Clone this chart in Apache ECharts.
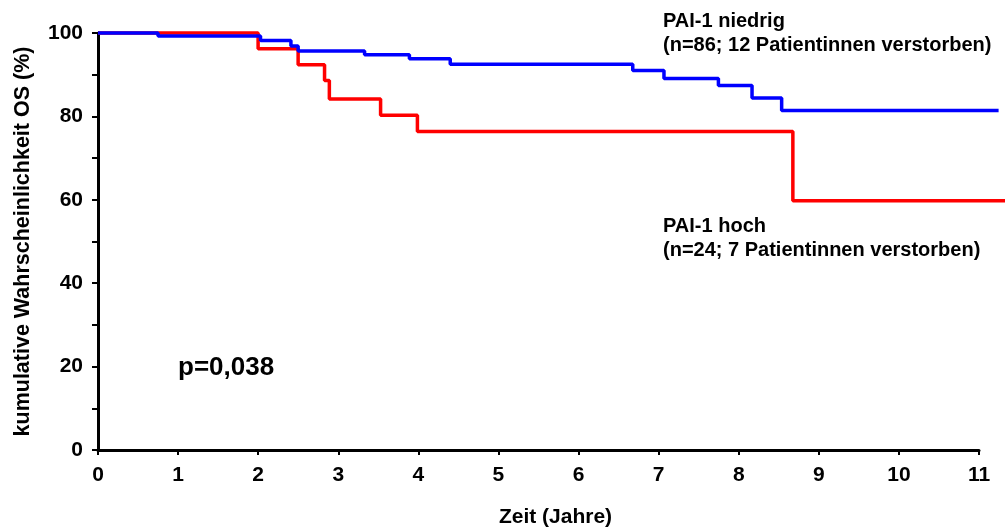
<!DOCTYPE html>
<html>
<head>
<meta charset="utf-8">
<script src="https://cdn.jsdelivr.net/npm/echarts@6/dist/echarts.min.js"></script>
<style>
  html, body { margin: 0; padding: 0; background: #fff; }
  #chart { width: 1005px; height: 531px; }
</style>
</head>
<body>
<div id="chart"></div>
<script>
// Kaplan-Meier Gesamtüberleben nach PAI-1 Status
var xTicks = [0, 1, 2, 3, 4, 5, 6, 7, 8, 9, 10, 11];
var yTicks = [0, 20, 40, 60, 80, 100];

// [Zeit in Jahren, kumulative Wahrscheinlichkeit %]
var paiNiedrig = [
  [0, 100], [0.75, 99.3], [2.03, 98.2], [2.41, 96.9], [2.50, 95.7],
  [3.33, 94.8], [3.89, 93.8], [4.40, 92.5], [6.68, 91.0], [7.07, 89.1],
  [7.75, 87.4], [8.17, 84.4], [8.54, 81.4], [11.25, 81.4]
];
var paiHoch = [
  [0, 100], [2.00, 96.2], [2.50, 92.4], [2.83, 88.6], [2.89, 84.2],
  [3.53, 80.3], [3.99, 76.4], [8.68, 59.8], [11.33, 59.8]
];

var labelNiedrig = ['PAI-1 niedrig', '(n=86; 12 Patientinnen verstorben)'];
var labelHoch = ['PAI-1 hoch', '(n=24; 7 Patientinnen verstorben)'];
var pText = 'p=0,038';

var font = 'Liberation Sans, Arial, sans-serif';
var chart = echarts.init(document.getElementById('chart'), null, { renderer: 'canvas' });

// grid 0 holds the curves (runs past year 11), grid 1 carries the visible axes (0..11)
var plotW = 881;                       // pixel width of 0..11 years
var xMaxData = 11.33;
var rightData = 1005 - 98 - Math.round(plotW * xMaxData / 11);

var hidden = { show: false };
chart.setOption({
  animation: false,
  grid: [
    { left: 98, right: rightData, top: 33, bottom: 81, outerBoundsMode: 'none' },
    { left: 98, right: 1005 - 98 - plotW, top: 33, bottom: 81, outerBoundsMode: 'none' }
  ],
  xAxis: [
    { type: 'value', gridIndex: 0, min: 0, max: xMaxData,
      axisLine: hidden, axisTick: hidden, axisLabel: hidden, splitLine: hidden },
    {
      type: 'value', gridIndex: 1, min: 0, max: 11, interval: 1,
      name: 'Zeit (Jahre)', nameLocation: 'middle', nameGap: 57,
      nameTextStyle: { color: '#000', fontFamily: font, fontWeight: 'bold', fontSize: 21, padding: [0, 0, 0, 34] },
      axisLine: { lineStyle: { color: '#000', width: 3 } },
      axisTick: { length: 5, lineStyle: { color: '#000', width: 2 } },
      axisLabel: { color: '#000', fontFamily: font, fontWeight: 'bold', fontSize: 21, margin: 15,
        formatter: function (v) { return xTicks.indexOf(v) >= 0 ? String(v) : ''; } },
      splitLine: hidden
    }
  ],
  yAxis: [
    { type: 'value', gridIndex: 0, min: 0, max: 100,
      axisLine: hidden, axisTick: hidden, axisLabel: hidden, splitLine: hidden },
    {
      type: 'value', gridIndex: 1, min: 0, max: 100, interval: 20,
      name: 'kumulative Wahrscheinlichkeit OS (%)', nameLocation: 'middle', nameGap: 64,
      nameTextStyle: { color: '#000', fontFamily: font, fontWeight: 'bold', fontSize: 21.5 },
      axisLine: { show: true, lineStyle: { color: '#000', width: 3 } },
      axisTick: { show: true, length: 6, lineStyle: { color: '#000', width: 2 } },
      minorTick: { show: true, splitNumber: 2, length: 6, lineStyle: { color: '#000', width: 2 } },
      axisLabel: { color: '#000', fontFamily: font, fontWeight: 'bold', fontSize: 21, margin: 15,
        formatter: function (v) { return yTicks.indexOf(v) >= 0 ? String(v) : ''; } },
      splitLine: hidden
    }
  ],
  series: [
    {
      name: 'PAI-1 hoch', type: 'line', step: 'end', data: paiHoch,
      xAxisIndex: 0, yAxisIndex: 0, showSymbol: false, clip: false,
      lineStyle: { color: '#ff0000', width: 3.5 }
    },
    {
      name: 'PAI-1 niedrig', type: 'line', step: 'end', data: paiNiedrig,
      xAxisIndex: 0, yAxisIndex: 0, showSymbol: false, clip: false,
      lineStyle: { color: '#0000ff', width: 3.5 }
    }
  ],
  graphic: [
    { type: 'text', left: 663, top: 9,
      style: { text: labelNiedrig.join('\n'), fill: '#000', font: 'bold 20px ' + font, lineHeight: 24 } },
    { type: 'text', left: 663, top: 214,
      style: { text: labelHoch.join('\n'), fill: '#000', font: 'bold 20px ' + font, lineHeight: 24 } },
    { type: 'text', left: 178, top: 355,
      style: { text: pText, fill: '#000', font: 'bold 26px ' + font } }
  ]
});
window.addEventListener('resize', function () { chart.resize(); });
</script>
</body>
</html>
